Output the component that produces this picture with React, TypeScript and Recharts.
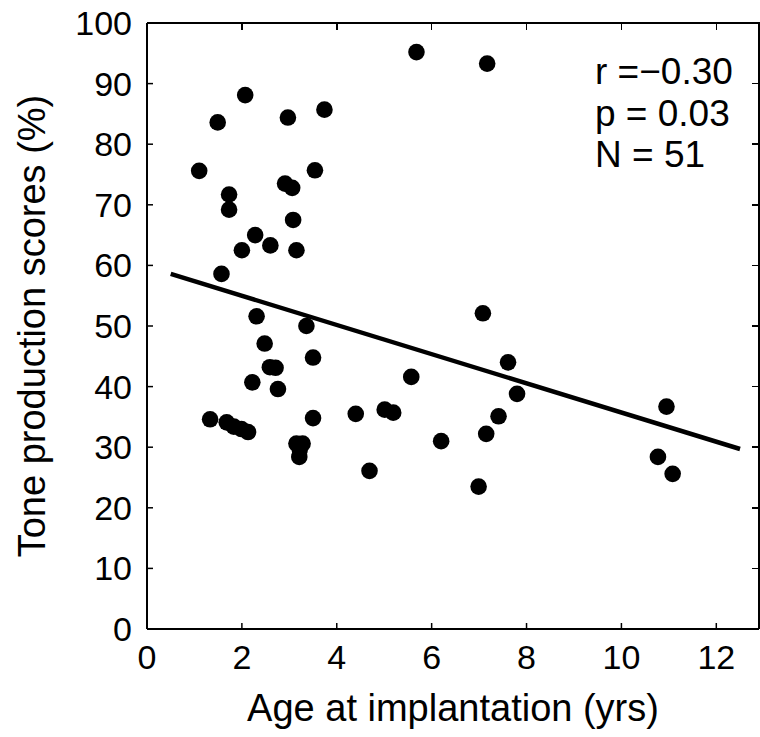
import { ScatterChart, Scatter, XAxis, YAxis, Label } from 'recharts'

// age at implantation (yrs) and tone production score (%), one entry per child
const ages = [
  5.68, 7.17, 2.07, 1.49, 2.97, 3.74, 1.1, 3.54, 2.91, 3.06,
  1.73, 1.73, 3.08, 2.28, 2.0, 2.6, 3.15, 1.57, 2.31, 3.36,
  7.08, 2.48, 2.59, 2.71, 3.5, 7.61, 2.22, 2.76, 5.57, 7.8,
  1.33, 1.68, 1.83, 1.99, 2.13, 3.5, 4.4, 5.01, 5.19, 7.41,
  7.15, 3.15, 3.28, 3.21, 6.2, 4.69, 6.99, 10.95, 10.77, 11.08,
  3.22,
]
const scores = [
  95.2, 93.3, 88.1, 83.6, 84.4, 85.7, 75.6, 75.7, 73.5, 72.8,
  71.7, 69.2, 67.5, 65.0, 62.5, 63.3, 62.5, 58.6, 51.6, 50.0,
  52.1, 47.1, 43.2, 43.1, 44.8, 44.0, 40.7, 39.6, 41.6, 38.8,
  34.6, 34.1, 33.4, 33.0, 32.5, 34.8, 35.5, 36.2, 35.7, 35.1,
  32.2, 30.6, 30.6, 28.4, 31.0, 26.1, 23.5, 36.7, 28.4, 25.6,
  29.6,
]

// regression line end points
const fitAges = [0.5, 12.5]
const fitScores = [58.6, 29.7]

const xTicks = [0, 2, 4, 6, 8, 10, 12]
const yTicks = [0, 10, 20, 30, 40, 50, 60, 70, 80, 90, 100]
const stats = ['r =\u22120.30', 'p = 0.03', 'N = 51']

const points = ages.map((x, i) => ({ x, y: scores[i] }))
const fit = fitAges.map((x, i) => ({ x, y: fitScores[i] }))

const FONT = '"Liberation Sans", Arial, Helvetica, sans-serif'
const X_MAX = 12.9
const Y_MAX = 100

// plot box in page pixels (from the chart margins / axis sizes below)
const PLOT = { left: 147, top: 23, right: 759, bottom: 629 }

function Dot({ cx, cy }: any) {
  return <circle cx={cx} cy={cy} r={8.3} fill="#000" />
}

function YTitle({ viewBox }: any) {
  const cy = viewBox.y + viewBox.height / 2
  return (
    <text
      x={45}
      y={cy}
      transform={`rotate(-90, 45, ${cy})`}
      textAnchor="middle"
      fontSize={38}
      fontFamily={FONT}
      fill="#000"
    >
      Tone production scores (%)
    </text>
  )
}

// top and right frame with inward ticks, matching the left/bottom axes
function Frame() {
  const w = PLOT.right - PLOT.left
  const h = PLOT.bottom - PLOT.top
  return (
    <>
      <div
        style={{
          position: 'absolute',
          left: PLOT.left,
          top: PLOT.top - 1,
          width: w + 1,
          height: h + 1,
          borderTop: '2px solid #000',
          borderRight: '2px solid #000',
          boxSizing: 'border-box',
          pointerEvents: 'none',
        }}
      />
      {xTicks.map((v) => (
        <div
          key={`tx${v}`}
          style={{
            position: 'absolute',
            left: PLOT.left + (v / X_MAX) * w - 0.75,
            top: PLOT.top + 1,
            width: 1.5,
            height: 6,
            background: '#000',
          }}
        />
      ))}
      {yTicks.map((v) => (
        <div
          key={`ty${v}`}
          style={{
            position: 'absolute',
            left: PLOT.right - 7,
            top: PLOT.bottom - (v / Y_MAX) * h - 0.75,
            width: 6,
            height: 1.5,
            background: '#000',
          }}
        />
      ))}
    </>
  )
}

export default function App() {
  const axisLine = { stroke: '#000', strokeWidth: 2 }
  const tickLine = { stroke: '#000', strokeWidth: 1.5 }
  const tick = { fontSize: 34, fontFamily: FONT, fill: '#000' }

  return (
    <div style={{ position: 'absolute', left: 0, top: 0, width: 760, height: 737, background: '#fff' }}>
      <ScatterChart width={760} height={737} margin={{ top: PLOT.top, right: 760 - PLOT.right, bottom: 0, left: 0 }}>
        <XAxis
          type="number"
          dataKey="x"
          domain={[0, X_MAX]}
          ticks={xTicks}
          interval={0}
          allowDataOverflow
          height={737 - PLOT.bottom}
          tickSize={-6}
          tickMargin={22}
          axisLine={axisLine}
          tickLine={tickLine}
          tick={tick}
        >
          <Label
            value="Age at implantation (yrs)"
            position="insideBottom"
            offset={16}
            style={{ fontSize: 38, fontFamily: FONT, fill: '#000' }}
          />
        </XAxis>
        <YAxis
          type="number"
          dataKey="y"
          domain={[0, Y_MAX]}
          ticks={yTicks}
          interval={0}
          allowDataOverflow
          width={PLOT.left}
          tickSize={-6}
          tickMargin={21}
          axisLine={axisLine}
          tickLine={tickLine}
          tick={tick}
        >
          <Label content={<YTitle />} />
        </YAxis>
        <Scatter
          data={fit}
          line={{ stroke: '#000', strokeWidth: 4.5 }}
          shape={() => <g />}
          isAnimationActive={false}
        />
        <Scatter data={points} shape={<Dot />} isAnimationActive={false} />
      </ScatterChart>
      <Frame />
      <div
        style={{
          position: 'absolute',
          left: 595,
          top: 51,
          fontFamily: FONT,
          fontSize: 37,
          lineHeight: '41.5px',
          color: '#000',
          whiteSpace: 'pre',
        }}
      >
        {stats.map((s) => (
          <div key={s}>{s}</div>
        ))}
      </div>
    </div>
  )
}
